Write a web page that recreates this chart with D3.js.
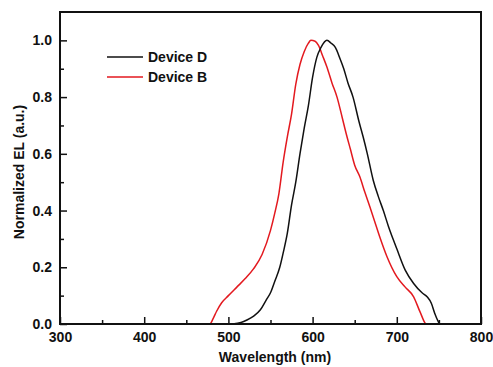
<!DOCTYPE html>
<html>
<head>
<meta charset="utf-8">
<script src="https://cdn.jsdelivr.net/npm/d3@7"></script>
<style>
  body { margin: 0; background: #fff; }
  svg text { font-family: "Liberation Sans", Arial, sans-serif; font-weight: bold; fill: #111; }
</style>
</head>
<body>
<div id="chart"></div>
<script>
// wavelength (nm) / normalized EL
var wlD = [505, 515, 522, 530, 538, 545, 550, 555, 561, 565, 570, 575, 580, 585, 590, 595, 600, 605, 610, 617, 622, 627, 632, 637, 642, 648, 655, 660, 665, 672, 678, 684, 690, 696, 700, 710, 720, 730, 736, 741, 745, 749, 751, 755];
var elD = [0, 0.005, 0.014, 0.028, 0.05, 0.085, 0.11, 0.15, 0.2, 0.25, 0.32, 0.42, 0.5, 0.6, 0.69, 0.77, 0.87, 0.94, 0.975, 1.0, 0.99, 0.975, 0.94, 0.9, 0.85, 0.8, 0.715, 0.66, 0.6, 0.507, 0.45, 0.4, 0.345, 0.296, 0.265, 0.19, 0.143, 0.11, 0.096, 0.073, 0.038, 0.01, 0, 0];

var wlB = [400, 478, 482, 486, 492, 500, 510, 520, 530, 540, 550, 555, 560, 565, 570, 575, 580, 585, 590, 595, 598, 603, 607, 612, 617, 623, 629, 635, 640, 645, 650, 656, 662, 668, 675, 680, 688, 700, 710, 720, 728, 735, 760];
var elB = [0, 0, 0.02, 0.045, 0.075, 0.1, 0.13, 0.16, 0.195, 0.245, 0.33, 0.39, 0.46, 0.57, 0.66, 0.74, 0.845, 0.915, 0.96, 0.99, 1.0, 0.997, 0.982, 0.945, 0.906, 0.85, 0.8, 0.73, 0.67, 0.615, 0.56, 0.52, 0.465, 0.413, 0.35, 0.305, 0.24, 0.167, 0.13, 0.096, 0.04, 0, 0];

var series = [
  { name: "Device D", color: "#111111", wl: wlD, el: elD },
  { name: "Device B", color: "#e3191f", wl: wlB, el: elB }
];

var xTicks = [300, 400, 500, 600, 700, 800];
var yTicks = [0, 0.2, 0.4, 0.6, 0.8, 1.0];

var width = 493, height = 367;
var margin = { top: 12, right: 12, bottom: 43, left: 60 };

var svg = d3.select("#chart").append("svg")
  .attr("width", width)
  .attr("height", height);

var x = d3.scaleLinear().domain([300, 800]).range([margin.left, width - margin.right]);
var y = d3.scaleLinear().domain([0, 1.1]).range([height - margin.bottom, margin.top]);

// minor ticks
svg.append("g")
  .attr("transform", `translate(0,${y(0)})`)
  .call(d3.axisBottom(x).tickValues(d3.range(350, 800, 100)).tickSize(-4).tickFormat(""))
  .call(g => g.select(".domain").remove());
svg.append("g")
  .attr("transform", `translate(${x(300)},0)`)
  .call(d3.axisLeft(y).tickValues([0.1, 0.3, 0.5, 0.7, 0.9]).tickSize(-4).tickFormat(""))
  .call(g => g.select(".domain").remove());

// major ticks
svg.append("g")
  .attr("class", "x-axis")
  .attr("transform", `translate(0,${y(0)})`)
  .call(d3.axisBottom(x).tickValues(xTicks).tickSize(-7).tickPadding(8).tickFormat(d3.format("d")))
  .call(g => g.select(".domain").remove());
svg.append("g")
  .attr("class", "y-axis")
  .attr("transform", `translate(${x(300)},0)`)
  .call(d3.axisLeft(y).tickValues(yTicks).tickSize(-7).tickPadding(8).tickFormat(d3.format(".1f")))
  .call(g => g.select(".domain").remove());

svg.selectAll(".tick line").attr("stroke", "#111").attr("stroke-width", 1.5);
svg.selectAll(".tick text").style("font-size", "14px");

// curves
var line = d3.line()
  .x(d => x(d[0]))
  .y(d => y(d[1]))
  .curve(d3.curveMonotoneX);

series.slice().reverse().forEach(function (s) {
  svg.append("path")
    .datum(d3.zip(s.wl, s.el))
    .attr("fill", "none")
    .attr("stroke", s.color)
    .attr("stroke-width", 1.5)
    .attr("d", line);
});

// frame
svg.append("rect")
  .attr("x", x(300))
  .attr("y", y(1.1))
  .attr("width", x(800) - x(300))
  .attr("height", y(0) - y(1.1))
  .attr("fill", "none")
  .attr("stroke", "#111")
  .attr("stroke-width", 2);

// legend
var legend = svg.append("g").attr("transform", "translate(107,57)");
series.forEach(function (s, i) {
  var g = legend.append("g").attr("transform", `translate(0,${i * 20})`);
  g.append("line").attr("x1", 0).attr("x2", 36).attr("y1", 0).attr("y2", 0)
    .attr("stroke", s.color).attr("stroke-width", 1.5);
  g.append("text").attr("x", 41).attr("y", 5).style("font-size", "14px").text(s.name);
});

// axis titles
svg.append("text")
  .attr("x", 275)
  .attr("y", 362)
  .attr("text-anchor", "middle")
  .style("font-size", "14px")
  .text("Wavelength (nm)");

svg.append("text")
  .attr("transform", "translate(24,172) rotate(-90)")
  .attr("text-anchor", "middle")
  .style("font-size", "14px")
  .text("Normalized EL (a.u.)");
</script>
</body>
</html>
